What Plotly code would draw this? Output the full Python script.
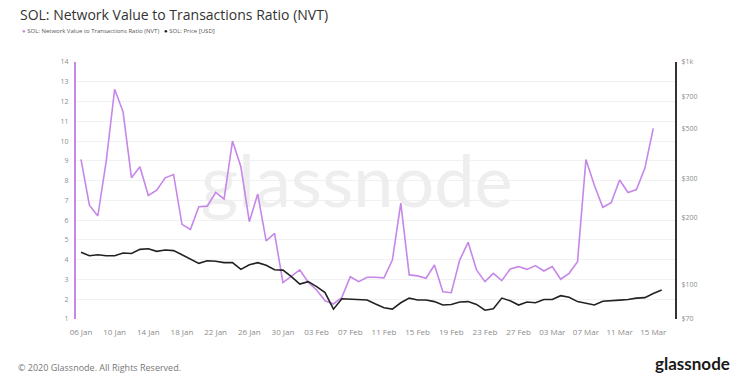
import pandas as pd
import plotly.graph_objects as go

start_date = "2022-01-06"

nvt_values = [9.07, 6.76, 6.21, 9.0, 12.62, 11.48, 8.14, 8.70, 7.25, 7.52,
              8.14, 8.31, 5.79, 5.53, 6.68, 6.71, 7.40, 7.07, 10.0, 8.70,
              5.92, 7.32, 4.95, 5.33, 2.84, 3.14, 3.48, 2.86, 2.47, 1.92,
              1.76, 2.10, 3.14, 2.89, 3.11, 3.11, 3.08, 3.98, 6.86, 3.23,
              3.18, 3.06, 3.73, 2.38, 2.33, 3.98, 4.88, 3.48, 2.89, 3.31,
              2.94, 3.53, 3.65, 3.51, 3.70, 3.43, 3.65, 3.01, 3.31, 3.90,
              9.07, 7.77, 6.65, 6.88, 8.03, 7.40, 7.55, 8.62, 10.64]

price_values = [139.6, 134.7, 136.1, 134.7, 134.7, 138.6, 137.9, 143.9, 144.9, 141.0,
                142.9, 142.0, 136.1, 130.6, 124.5, 127.9, 127.2, 125.4, 125.4, 117.0,
                122.8, 125.4, 122.0, 116.5, 116.1, 108.4, 100.5, 103.0, 97.8, 92.0,
                77.5, 86.3, 86.1, 85.8, 85.2, 81.7, 78.6, 77.6, 82.8, 86.9,
                85.2, 85.2, 83.8, 80.9, 81.3, 83.5, 83.8, 81.4, 76.7, 77.9,
                86.9, 84.5, 80.9, 83.4, 82.8, 85.7, 85.7, 89.1, 87.6, 83.8,
                82.1, 80.9, 84.1, 84.9, 85.1, 85.7, 86.9, 87.3, 91.2, 94.4]

x_tick_dates = ["2022-01-06", "2022-01-10", "2022-01-14", "2022-01-18", "2022-01-22",
                "2022-01-26", "2022-01-30", "2022-02-03", "2022-02-07", "2022-02-11",
                "2022-02-15", "2022-02-19", "2022-02-23", "2022-02-27", "2022-03-03",
                "2022-03-07", "2022-03-11", "2022-03-15"]
x_tick_labels = ["06 Jan", "10 Jan", "14 Jan", "18 Jan", "22 Jan", "26 Jan", "30 Jan",
                 "03 Feb", "07 Feb", "11 Feb", "15 Feb", "19 Feb", "23 Feb", "27 Feb",
                 "03 Mar", "07 Mar", "11 Mar", "15 Mar"]
left_ticks = list(range(1, 15))
right_tick_vals = [70, 100, 200, 300, 500, 700, 1000]
right_tick_labels = ["$70", "$100", "$200", "$300", "$500", "$700", "$1k"]

title_text = "SOL: Network Value to Transactions Ratio (NVT)"
nvt_name = "SOL: Network Value to Transactions Ratio (NVT)"
price_name = "SOL: Price [USD]"

PURPLE = "#c687e8"
DARK = "#222222"
TICK = "#8c8c8c"
FONT = "Open Sans"

nvt_dates = pd.date_range(start_date, periods=len(nvt_values), freq="D")
price_dates = pd.date_range(start_date, periods=len(price_values), freq="D")

fig = go.Figure()
# watermark drawn first so the data lines sit on top of it
fig.add_trace(go.Scatter(x=[pd.Timestamp("2022-02-07 18:00")], y=[7.6], mode="text",
                         text=["glassnode"], textposition="middle center",
                         textfont=dict(family="Lato", size=72, color="#eeeeee"),
                         hoverinfo="skip", showlegend=False, yaxis="y"))
fig.add_trace(go.Scatter(x=nvt_dates, y=nvt_values, mode="lines", name=nvt_name,
                         line=dict(color=PURPLE, width=1.6), yaxis="y"))
fig.add_trace(go.Scatter(x=price_dates, y=price_values, mode="lines", name=price_name,
                         line=dict(color=DARK, width=1.6), yaxis="y2"))

fig.update_layout(
    width=750, height=375,
    margin=dict(l=68, r=83, t=54, b=64),
    paper_bgcolor="white", plot_bgcolor="white",
    showlegend=False,
    font=dict(family=FONT, color=TICK, size=8),
    xaxis=dict(
        type="date",
        range=["2022-01-05 09:45", "2022-03-17 14:00"],
        tickvals=x_tick_dates, ticktext=x_tick_labels,
        showgrid=False, showline=False, zeroline=False,
        ticks="outside", ticklen=5, tickcolor="rgba(0,0,0,0)",
        tickfont=dict(size=8, color=TICK),
    ),
    yaxis=dict(
        range=[1, 14], tickvals=left_ticks,
        showgrid=True, gridcolor="#f1f1f1", gridwidth=1,
        showline=True, linecolor=PURPLE, linewidth=2,
        zeroline=False, ticks="outside", ticklen=4, tickcolor="rgba(0,0,0,0)",
        tickfont=dict(size=7, color=TICK),
    ),
    yaxis2=dict(
        type="log", overlaying="y", side="right",
        range=[1.8451, 3.0],
        tickvals=right_tick_vals, ticktext=right_tick_labels,
        showgrid=False, showline=True, linecolor="#333333", linewidth=2,
        zeroline=False, ticks="outside", ticklen=3, tickcolor="rgba(0,0,0,0)",
        tickfont=dict(size=7, color=TICK),
    ),
)

annotations = [
    # title
    dict(text=title_text, x=-0.097, y=1.186, xref="paper", yref="paper",
         showarrow=False, font=dict(family=FONT, size=14, color="#333333"),
         xanchor="left", yanchor="middle"),
    # legend
    dict(text="<span style='color:%s'>●</span> %s" % (PURPLE, nvt_name),
         x=-0.093, y=1.12, xref="paper", yref="paper", showarrow=False,
         font=dict(family=FONT, size=6, color="#555555"), xanchor="left", yanchor="middle"),
    dict(text="<span style='color:#111111'>●</span> %s" % price_name,
         x=0.143, y=1.12, xref="paper", yref="paper", showarrow=False,
         font=dict(family=FONT, size=6, color="#555555"), xanchor="left", yanchor="middle"),
    # footer
    dict(text="© 2020 Glassnode. All Rights Reserved.", x=-0.10, y=-0.19, xref="paper",
         yref="paper", showarrow=False, font=dict(family=FONT, size=9, color="#777777"),
         xanchor="left", yanchor="middle"),
    dict(text="<b>glassnode</b>", x=1.095, y=-0.175, xref="paper", yref="paper",
         showarrow=False, font=dict(family="Lato", size=17, color="#1a1a1a"),
         xanchor="right", yanchor="middle"),
]
fig.update_layout(annotations=annotations)

fig.write_html("out.html")
